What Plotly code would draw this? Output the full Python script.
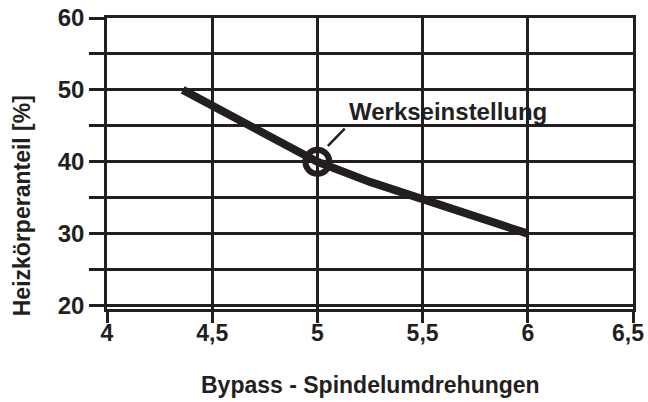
import plotly.graph_objects as go

# Data
spindle_turns = [4.36, 4.5, 4.75, 5.0, 5.25, 5.5, 5.75, 6.0]
radiator_share = [50.0, 47.8, 43.8, 40.0, 37.2, 34.8, 32.4, 30.0]
factory_x = [5.0]
factory_y = [40.0]
x_tickvals = [4, 4.5, 5, 5.5, 6, 6.5]
x_ticktext = ["4", "4,5", "5", "5,5", "6", ""]
last_x_tick = 6.5
last_x_label = "6,5"
y_tickvals = [20, 25, 30, 35, 40, 45, 50, 55, 60]
y_ticktext = ["20", "", "30", "", "40", "", "50", "", "60"]

INK = "#231f20"
FONT = "Liberation Sans, Arial, sans-serif"

fig = go.Figure()
fig.add_trace(go.Scatter(
    x=spindle_turns, y=radiator_share, mode="lines",
    line=dict(color=INK, width=8), showlegend=False, hoverinfo="skip"))
fig.add_trace(go.Scatter(
    x=factory_x, y=factory_y, mode="markers",
    marker=dict(symbol="circle-open", size=24, color=INK, line=dict(width=6, color=INK)),
    showlegend=False, hoverinfo="skip"))

fig.add_shape(type="line", x0=5.05, y0=42.2, x1=5.13, y1=44.6,
              line=dict(color=INK, width=2.5), layer="above")
fig.add_annotation(x=5.14, y=47.0, text="<b>Werkseinstellung</b>", showarrow=False,
                   xanchor="left", yanchor="middle",
                   font=dict(size=24, color=INK, family=FONT))

# Last x tick label, nudged left so it stays inside the page (as in the reference)
fig.add_annotation(xref="x", yref="paper", x=last_x_tick, y=-0.0825, xshift=-5.5,
                   text="<b>" + last_x_label + "</b>", showarrow=False,
                   xanchor="center", yanchor="middle",
                   font=dict(size=23, color=INK, family=FONT))

# Axis titles
fig.add_annotation(xref="paper", yref="paper", x=0.5, y=-0.261,
                   text="<b>Bypass - Spindelumdrehungen</b>", showarrow=False,
                   xanchor="center", yanchor="middle",
                   font=dict(size=23, color=INK, family=FONT))
fig.add_annotation(xref="paper", yref="paper", x=-0.16, y=0.356,
                   text="<b>Heizkörperanteil [%]</b>", showarrow=False, textangle=-90,
                   xanchor="center", yanchor="middle",
                   font=dict(size=23, color=INK, family=FONT))

fig.update_layout(
    width=648, height=402,
    margin=dict(l=107, r=15, t=18, b=93),
    paper_bgcolor="white", plot_bgcolor="white",
    font=dict(family=FONT, color=INK),
)
fig.update_xaxes(
    range=[4, 6.5], tickvals=x_tickvals, ticktext=x_ticktext,
    showgrid=True, gridcolor=INK, gridwidth=2.5,
    showline=True, linecolor=INK, linewidth=2.5, mirror=True,
    ticks="outside", ticklen=11, tickwidth=2.5, tickcolor=INK,
    tickfont=dict(size=23, family=FONT, color=INK, weight="bold"),
    ticklabeloverflow="allow", ticklabelstandoff=-9,
    zeroline=False, automargin=False,
)
fig.update_yaxes(
    range=[19.52, 60], tickvals=y_tickvals, ticktext=y_ticktext,
    showgrid=True, gridcolor=INK, gridwidth=2.5,
    showline=True, linecolor=INK, linewidth=2.5, mirror=True,
    ticks="outside", ticklen=15, tickwidth=2.5, tickcolor=INK,
    tickfont=dict(size=24, family=FONT, color=INK, weight="bold"),
    ticklabeloverflow="allow",
    zeroline=False, automargin=False,
)

fig.write_html("out.html", config={"displayModeBar": False},
               post_script="document.body.style.margin='0px';")
